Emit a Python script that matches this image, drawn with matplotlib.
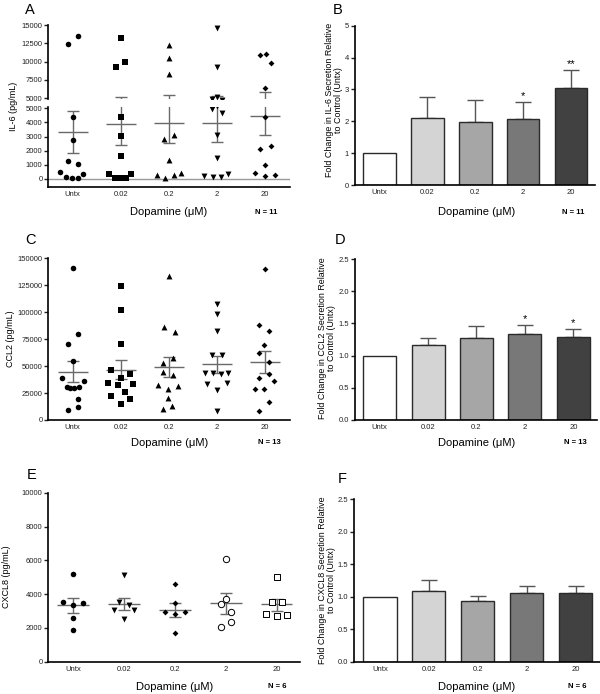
import matplotlib
matplotlib.use("Agg")
import matplotlib.pyplot as plt
import numpy as np

plt.rcParams['font.family'] = ['Liberation Sans', 'DejaVu Sans']

W, H = 600, 694
categories = ['Untx', '0.02', '0.2', '2', '20']

# ---- Panel A: IL-6 (pg/mL), values and x jitter per group
a_vals = [
    [12400, 13550, 4370, 2740, 1270, 1080, 470, 350, 150, 50, 50],
    [13270, 9320, 9950, 4410, 3020, 1630, 350, 330, 100, 50, 50],
    [12270, 10450, 8270, 2830, 3110, 1340, 280, 280, 400, 100],
    [14550, 9320, 5180, 4920, 4700, 3110, 1510, 240, 160, 160, 330],
    [10950, 11050, 9770, 6450, 4370, 2360, 2150, 970, 400, 210, 260],
]
a_jit = [
    [-0.10, 0.10, 0, 0, -0.10, 0.10, -0.26, 0.22, -0.15, -0.02, 0.10],
    [0, -0.11, 0.08, 0, 0, 0, -0.25, 0.22, -0.12, 0, 0.10],
    [0, 0, 0, -0.10, 0.10, 0, -0.24, 0.10, 0.26, -0.09],
    [0, 0, 0, -0.10, 0.10, 0, 0, -0.26, -0.08, 0.09, 0.24],
    [-0.10, 0.02, 0.12, 0, 0, 0.12, -0.10, 0, -0.21, 0, 0.21],
]
a_mean = [3300, 3870, 3990, 3960, 4430]
a_lo = [1820, 2430, 2520, 2590, 3090]
a_hi = [4830, 5230, 5410, 5270, 5820]

# ---- Panel C: CCL2 (pg/mL)
c_vals = [
    [140700, 79800, 70500, 54700, 38700, 36200, 31000, 30000, 30000, 30300, 19500, 12400, 9300],
    [124300, 101700, 70500, 46400, 39300, 42400, 34000, 32500, 33400, 26300, 22600, 19200, 14800],
    [133900, 86600, 81600, 53200, 57200, 44800, 41800, 32500, 31900, 28800, 20100, 13300, 10200],
    [107600, 98000, 82600, 60000, 60000, 43900, 43300, 42400, 43300, 33100, 34000, 27800, 8700],
    [139800, 88150, 82900, 69600, 61900, 54100, 42400, 39300, 36500, 28800, 28800, 16400, 8700],
]
c_jit = [
    [0, 0.11, -0.10, 0, -0.23, 0.24, -0.12, -0.05, 0.03, 0.13, 0.11, 0.11, -0.10],
    [0, 0, 0, -0.20, 0, 0.19, -0.26, -0.05, 0.25, 0.09, -0.20, 0.19, 0],
    [0, -0.10, 0.12, -0.12, 0.08, -0.12, 0.08, -0.22, 0.19, -0.02, -0.02, 0.07, -0.12],
    [0, 0, 0, -0.11, 0.10, -0.25, -0.08, 0.08, 0.24, -0.21, 0.20, 0, 0],
    [0, -0.12, 0.08, -0.02, -0.12, 0.08, 0.08, -0.12, 0.19, -0.21, -0.02, 0.08, -0.12],
]
c_mean = [44500, 46400, 49500, 51600, 53500]
c_lo = [34900, 37700, 40200, 43900, 43900]
c_hi = [54700, 55700, 58800, 59700, 63700]

# ---- Panel E: CXCL8 (pg/mL)
e_vals = [
    [5190, 3540, 3360, 3480, 2590, 1870],
    [5110, 3540, 3380, 3080, 3080, 2530],
    [4580, 3500, 2930, 2810, 2950, 1690],
    [6090, 3730, 3400, 2950, 2360, 2080],
    [4990, 3520, 3520, 2830, 2730, 2750],
]
e_jit = [
    [0, -0.20, 0, 0.20, 0, 0],
    [0, -0.10, 0.10, -0.20, 0.20, 0],
    [0, 0, -0.20, 0, 0.20, 0],
    [0, 0, -0.10, 0.11, 0.11, -0.10],
    [0, -0.10, 0.10, -0.20, 0, 0.20],
]
e_mean = [3340, 3420, 3060, 3460, 3390]
e_lo = [2890, 3080, 2670, 2850, 3020]
e_hi = [3790, 3770, 3460, 4050, 3690]

# ---- Fold change bars (B, D, F)
b_fold = [1.0, 2.09, 1.97, 2.06, 3.06]
b_err_top = [1.0, 2.75, 2.67, 2.60, 3.61]
b_stars = ['', '', '', '*', '**']
d_fold = [1.0, 1.165, 1.273, 1.34, 1.294]
d_err_top = [1.0, 1.27, 1.465, 1.48, 1.41]
d_stars = ['', '', '', '*', '*']
f_fold = [1.0, 1.088, 0.934, 1.053, 1.063]
f_err_top = [1.0, 1.258, 1.016, 1.17, 1.17]
f_stars = ['', '', '', '', '']
bar_colors = ['#ffffff', '#d4d4d4', '#a6a6a6', '#787878', '#414141']

line_gray = '#6a6a6a'
tick_fs = 5.5
sizes = {'o': 16, 's': 15, '^': 18, 'v': 18, 'D': 9}


def rect(x0, y0, x1, y1):
    return [x0 / W, 1 - y1 / H, (x1 - x0) / W, (y1 - y0) / H]


def style(ax, xlim):
    for s in ['top', 'right']:
        ax.spines[s].set_visible(False)
    for s in ['left', 'bottom']:
        ax.spines[s].set_linewidth(1.2)
    ax.set_xlim(*xlim)
    ax.tick_params(axis='y', labelsize=tick_fs, length=3, width=1, pad=1.2, colors='#222222')
    ax.tick_params(axis='x', labelsize=tick_fs, length=0, pad=3, colors='#222222')


def scatter_group(ax, vals, jit, mean, lo, hi, markers, filled):
    for i in range(5):
        x = i + np.array(jit[i])
        if filled[i]:
            ax.scatter(x, vals[i], marker=markers[i], s=sizes[markers[i]], color='black',
                       linewidths=0, zorder=3)
        else:
            ax.scatter(x, vals[i], marker=markers[i], s=sizes[markers[i]] * 1.3, facecolor='white',
                       edgecolor='black', linewidths=0.7, zorder=3)
        ax.hlines(mean[i], i - 0.31, i + 0.31, color=line_gray, lw=1, zorder=2)
        ax.vlines(i, lo[i], hi[i], color=line_gray, lw=1, zorder=2)
        ax.hlines([lo[i], hi[i]], i - 0.12, i + 0.12, color=line_gray, lw=1, zorder=2)


fig = plt.figure(figsize=(W / 100, H / 100), dpi=100)

# ---------------- A (broken y axis)
xl_a = (-0.51, 4.52)
ax_top = fig.add_axes(rect(48.3, 25, 290, 99.3))
ax_bot = fig.add_axes(rect(48.3, 106.7, 290, 186.7))
for ax in (ax_top, ax_bot):
    style(ax, xl_a)
    scatter_group(ax, a_vals, a_jit, a_mean, a_lo, a_hi, ['o', 's', '^', 'v', 'D'], [True] * 5)
ax_top.set_ylim(4860, 15000)
ax_top.set_yticks(np.arange(5000, 15001, 2500))
ax_top.spines['bottom'].set_visible(False)
ax_top.set_xticks([])
ax_bot.set_ylim(-545, 5113)
ax_bot.set_yticks(np.arange(0, 5001, 1000))
ax_bot.axhline(0, color='#9a9a9a', lw=1, zorder=1)
ax_bot.set_xticks(range(5))
ax_bot.set_xticklabels(categories)
fig.text(13 / W, 1 - 106 / H, 'IL-6 (pg/mL)', rotation=90, ha='center', va='center', fontsize=6.5)

# ---------------- C
ax_c = fig.add_axes(rect(48.3, 258.3, 290, 420))
style(ax_c, xl_a)
scatter_group(ax_c, c_vals, c_jit, c_mean, c_lo, c_hi, ['o', 's', '^', 'v', 'D'], [True] * 5)
ax_c.set_ylim(0, 150000)
ax_c.set_yticks(np.arange(0, 150001, 25000))
ax_c.set_xticks(range(5))
ax_c.set_xticklabels(categories)
fig.text(11 / W, 1 - 339 / H, 'CCL2 (pg/mL)', rotation=90, ha='center', va='center', fontsize=6.5)

# ---------------- E
ax_e = fig.add_axes(rect(48.3, 492.7, 300, 661.7))
style(ax_e, (-0.49, 4.46))
scatter_group(ax_e, e_vals, e_jit, e_mean, e_lo, e_hi, ['o', 'v', 'D', 'o', 's'],
              [True, True, True, False, False])
ax_e.set_ylim(0, 10000)
ax_e.set_yticks(np.arange(0, 10001, 2000))
ax_e.set_xticks(range(5))
ax_e.set_xticklabels(categories)
fig.text(7 / W, 1 - 577 / H, 'CXCL8 (pg/mL)', rotation=90, ha='center', va='center', fontsize=6.5)


# ---------------- bar panels
def bar_panel(r, xlim, fold, top, stars, ylim, yticks, ylab, ylab_xy):
    ax = fig.add_axes(rect(*r))
    style(ax, xlim)
    x = np.arange(5)
    ax.bar(x, fold, width=0.68, color=bar_colors, edgecolor='#2a2a2a', lw=1, zorder=2)
    up = np.array(top) - np.array(fold)
    ax.errorbar(x[1:], fold[1:], yerr=[np.zeros(4), up[1:]], fmt='none', ecolor='#555555',
                elinewidth=1, capsize=6, capthick=1, zorder=1)
    for i, s in enumerate(stars):
        if s:
            ax.text(i, top[i] + (ylim[1] - ylim[0]) * 0.005, s, ha='center', va='bottom', fontsize=8)
    ax.set_ylim(*ylim)
    ax.set_yticks(yticks)
    ax.set_xticks(range(5))
    ax.set_xticklabels(categories)
    fig.text(ylab_xy[0] / W, 1 - ylab_xy[1] / H, ylab, rotation=90, ha='center', va='center',
             fontsize=6.4, linespacing=1.05)
    return ax


ax_b = bar_panel((355, 25.7, 595, 185), (-0.51, 4.5), b_fold, b_err_top, b_stars, (0, 5),
                 range(0, 6), 'Fold Change in IL-6 Secretion Relative\nto Control (Untx)', (334, 100))
ax_d = bar_panel((355, 259, 597, 420), (-0.51, 4.49), d_fold, d_err_top, d_stars, (0, 2.5),
                 np.arange(0, 2.51, 0.5), 'Fold Change in CCL2 Secretion Relative\nto Control (Untx)', (327, 338))
ax_d.set_yticklabels(['0.0', '0.5', '1.0', '1.5', '2.0', '2.5'])
ax_f = bar_panel((354, 499.3, 600, 661.7), (-0.53, 4.5), f_fold, f_err_top, f_stars, (0, 2.5),
                 np.arange(0, 2.51, 0.5), 'Fold Change in CXCL8 Secretion Relative\nto Control (Untx)', (327, 580))
ax_f.set_yticklabels(['0.0', '0.5', '1.0', '1.5', '2.0', '2.5'])

# ---------------- x labels, N, panel letters
for cx, cy, nx, n in [(169, 212, 266, 'N = 11'), (477, 212, 573, 'N = 11'),
                      (170, 443, 269, 'N = 13'), (477, 443, 575, 'N = 13'),
                      (175, 687, 277, 'N = 6'), (477, 687, 577, 'N = 6')]:
    fig.text(cx / W, 1 - cy / H, 'Dopamine (\u03bcM)', ha='center', va='center', fontsize=8)
    fig.text(nx / W, 1 - cy / H, n, ha='center', va='center', fontsize=5.5, fontweight='bold')

for lab, lx, ly in [('A', 25, 10), ('B', 333, 10), ('C', 25, 240), ('D', 335, 240),
                    ('E', 27, 475), ('F', 338, 479)]:
    fig.text(lx / W, 1 - ly / H, lab, ha='left', va='center', fontsize=10.5)

fig.savefig('out.png', dpi=100)
